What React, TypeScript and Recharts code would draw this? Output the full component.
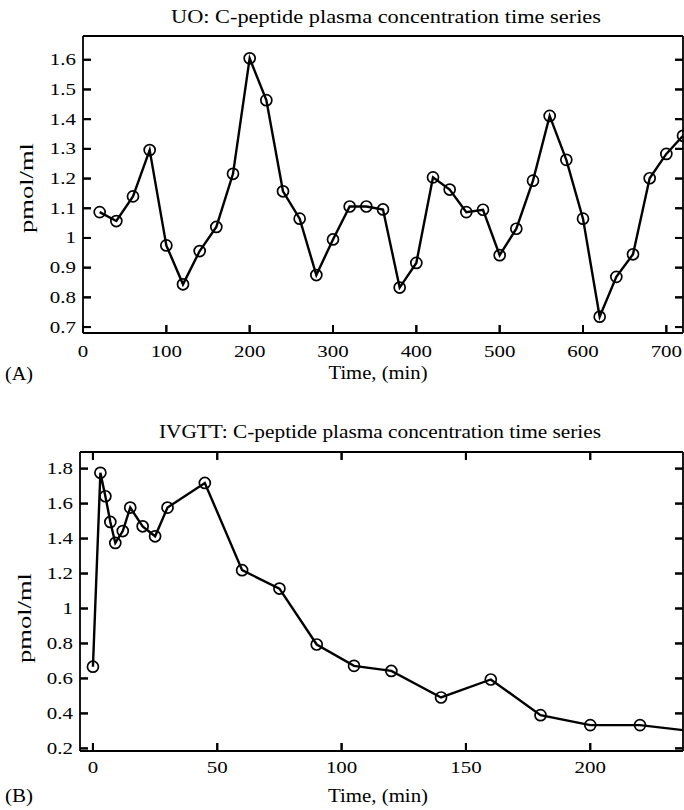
import React from "react";
import { LineChart, Line, XAxis, YAxis } from "recharts";

// (A) UO sampling: time (min) and C-peptide (pmol/ml)
const uoTime = [20, 40, 60, 80, 100, 120, 140, 160, 180, 200, 220, 240, 260, 280, 300, 320, 340, 360, 380, 400, 420, 440, 460, 480, 500, 520, 540, 560, 580, 600, 620, 640, 660, 680, 700, 720];
const uoConc = [1.087, 1.057, 1.14, 1.296, 0.975, 0.844, 0.956, 1.037, 1.216, 1.605, 1.464, 1.157, 1.065, 0.875, 0.995, 1.106, 1.106, 1.096, 0.833, 0.916, 1.204, 1.163, 1.087, 1.095, 0.942, 1.031, 1.193, 1.411, 1.263, 1.065, 0.735, 0.869, 0.945, 1.201, 1.283, 1.344];
const uoXTicks = [0, 100, 200, 300, 400, 500, 600, 700];
const uoYTicks = [0.7, 0.8, 0.9, 1, 1.1, 1.2, 1.3, 1.4, 1.5, 1.6];

// (B) IVGTT sampling
const ivTime = [0, 3, 5, 7, 9, 12, 15, 20, 25, 30, 45, 60, 75, 90, 105, 120, 140, 160, 180, 200, 220, 240];
const ivConc = [0.667, 1.776, 1.642, 1.495, 1.375, 1.443, 1.577, 1.47, 1.413, 1.577, 1.718, 1.219, 1.114, 0.794, 0.672, 0.643, 0.491, 0.594, 0.39, 0.333, 0.333, 0.3];
const ivXTicks = [0, 50, 100, 150, 200];
const ivYTicks = [0.2, 0.4, 0.6, 0.8, 1, 1.2, 1.4, 1.6, 1.8];

const uoData = uoTime.map((t, i) => ({ t, c: uoConc[i] }));
const ivData = ivTime.map((t, i) => ({ t, c: ivConc[i] }));

const FONT = '"Liberation Serif", "Times New Roman", serif';
const SX = 1.27; // the scan is stretched sideways
const AX = { stroke: "#000", strokeWidth: 1.8 };
const TL = { stroke: "#000", strokeWidth: 2 };
// negative tick size draws the marks inside the frame; the margin brings the label anchor back to the axis
const IN = { tickSize: -8, tickMargin: 8, tickLine: TL, axisLine: AX, interval: 0 as const };

const makeBottomTick = (off: number) => (p: any) => (
  <g>
    <path d={`M${p.x},${p.y}V${p.y - 8}`} stroke="#000" strokeWidth={2} fill="none" />
    <text transform={`translate(${p.x},${p.y + off}) scale(${SX},1)`} textAnchor="middle" fontFamily={FONT} fontSize={16.5} fill="#000">
      {p.payload.value}
    </text>
  </g>
);

const makeLeftTick = (gap: number) => (p: any) => (
  <g>
    <path d={`M${p.x},${p.y}H${p.x + 8}`} stroke="#000" strokeWidth={2} fill="none" />
    <text transform={`translate(${p.x - gap},${p.y + 5.5}) scale(${SX},1)`} textAnchor="end" fontFamily={FONT} fontSize={16.5} fill="#000">
      {p.payload.value}
    </text>
  </g>
);

const RightTick = (p: any) => (
  <g>
    <path d={`M${p.x},${p.y}H${p.x - 8}`} stroke="#000" strokeWidth={2} fill="none" />
  </g>
);

const TopTick = (p: any) => (
  <g>
    <path d={`M${p.x},${p.y}V${p.y + 8}`} stroke="#000" strokeWidth={2} fill="none" />
  </g>
);

const dotStyle = { r: 5.5, fill: "none", stroke: "#000", strokeWidth: 1.7 };

export default function App() {
  return (
    <div style={{ position: "absolute", left: 0, top: 0, width: 684, height: 810, background: "#fff", overflow: "hidden" }}>
      <div style={{ position: "absolute", left: 0, top: 0 }}>
        <LineChart width={684} height={400} data={uoData} margin={{ top: 35, right: 0, bottom: 66, left: 82 }}>
          <XAxis dataKey="t" type="number" domain={[0, 720]} ticks={uoXTicks} height={1} {...IN} tick={makeBottomTick(24)} />
          <XAxis xAxisId="top" orientation="top" dataKey="t" type="number" domain={[0, 720]}
            height={1} tickLine={false} tick={false} axisLine={AX} />
          <YAxis type="number" domain={[0.68, 1.68]} ticks={uoYTicks} allowDataOverflow width={1} {...IN} tick={makeLeftTick(7)} />
          <YAxis yAxisId="right" orientation="right" type="number" domain={[0.68, 1.68]} ticks={uoYTicks} allowDataOverflow
            width={1} {...IN} tick={RightTick} />
          <Line dataKey="c" type="linear" stroke="#000" strokeWidth={2.4} dot={dotStyle} isAnimationActive={false} />
        </LineChart>
      </div>
      <div style={{ position: "absolute", left: 0, top: 400 }}>
        <LineChart width={684} height={410} data={ivData} margin={{ top: 51, right: 0, bottom: 58, left: 79 }}>
          <XAxis dataKey="t" type="number" domain={[-5.2, 237.3]} ticks={ivXTicks} allowDataOverflow height={1} {...IN} tick={makeBottomTick(22)} />
          <XAxis xAxisId="top" orientation="top" dataKey="t" type="number" domain={[-5.2, 237.3]} ticks={ivXTicks} allowDataOverflow
            height={1} {...IN} tick={TopTick} />
          <YAxis type="number" domain={[0.185, 1.895]} ticks={ivYTicks} allowDataOverflow width={1} {...IN} tick={makeLeftTick(7)} />
          <YAxis yAxisId="right" orientation="right" type="number" domain={[0.185, 1.895]} ticks={ivYTicks} allowDataOverflow
            width={1} {...IN} tick={RightTick} />
          <Line dataKey="c" type="linear" stroke="#000" strokeWidth={2.4} dot={dotStyle} isAnimationActive={false} />
        </LineChart>
      </div>
      <svg width={684} height={810} style={{ position: "absolute", left: 0, top: 0, pointerEvents: "none" }} fontFamily={FONT} fill="#000">
        <text x={386} y={23} fontSize={18} textAnchor="middle" textLength={430} lengthAdjust="spacingAndGlyphs">
          UO: C-peptide plasma concentration time series
        </text>
        <text x={378} y={379} fontSize={18} textAnchor="middle" textLength={99} lengthAdjust="spacingAndGlyphs">Time, (min)</text>
        <text x={5} y={380} fontSize={18} textLength={28} lengthAdjust="spacingAndGlyphs">(A)</text>
        <text transform="translate(33,188) rotate(-90)" fontSize={19} textAnchor="middle" textLength={90} lengthAdjust="spacingAndGlyphs">pmol/ml</text>

        <text x={380} y={438} fontSize={18} textAnchor="middle" textLength={442} lengthAdjust="spacingAndGlyphs">
          IVGTT: C-peptide plasma concentration time series
        </text>
        <text x={378} y={802} fontSize={18} textAnchor="middle" textLength={100} lengthAdjust="spacingAndGlyphs">Time, (min)</text>
        <text x={5} y={802} fontSize={18} textLength={28} lengthAdjust="spacingAndGlyphs">(B)</text>
        <text transform="translate(31,618) rotate(-90)" fontSize={19} textAnchor="middle" textLength={90} lengthAdjust="spacingAndGlyphs">pmol/ml</text>
      </svg>
    </div>
  );
}
